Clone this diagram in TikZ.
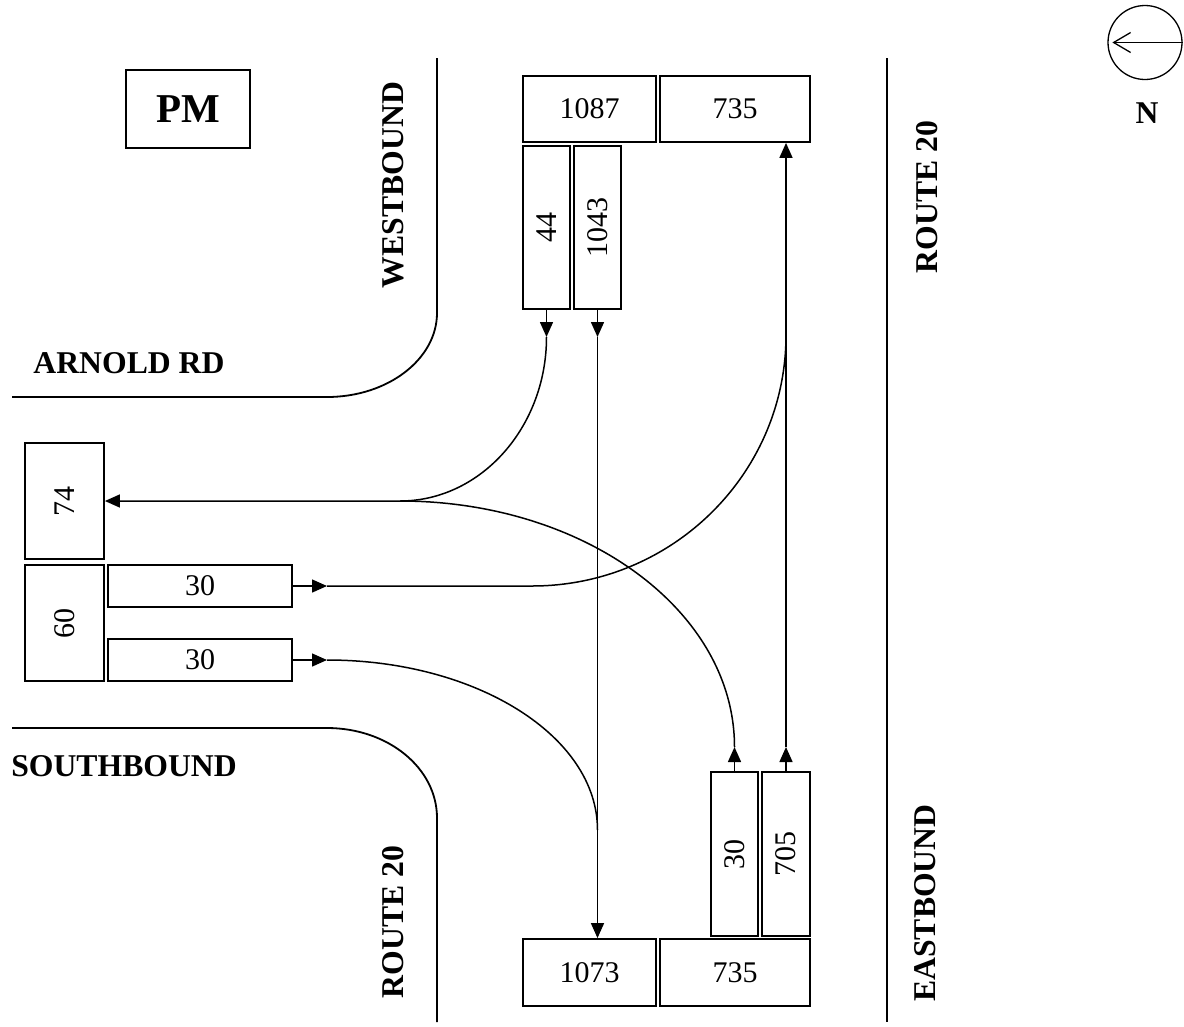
\documentclass[tikz,border=0pt]{standalone}
\usepackage{fontspec}
\usepackage{graphicx}
\setmainfont{Liberation Serif}
\usetikzlibrary{arrows.meta}
\begin{document}
\begin{tikzpicture}[x=1pt,y=-1pt,
  box/.style={draw, line width=1.8pt, inner sep=0pt, font=\fontsize{30}{36}\selectfont},
  road/.style={line width=1.8pt},
  lbl/.style={font=\fontsize{31.7}{36}\selectfont\bfseries, inner sep=0pt},
  flow/.style={line width=1.5pt},
  arr/.style={flow, -{Triangle[length=15pt,width=13pt]}},
]
\useasboundingbox (0,0) rectangle (1184,1026);

% roads
\draw[road] (437,58) -- (437,313) .. controls (437,359) and (388,397) .. (327,397) -- (12,397);
\draw[road] (12,728) -- (327,728) .. controls (388,728) and (437,768) .. (437,818) -- (437,1022);
\draw[road] (887,58) -- (887,1022);

% labels
\node[box, font=\fontsize{41}{48}\selectfont\bfseries, minimum width=124pt, minimum height=78pt] (pm) at (188,109) {PM};
\node[lbl, rotate=90] (wb) at (393,185) {WESTBOUND};
\node[lbl] (arn) at (129,363) {ARNOLD RD};
\node[lbl] (sb) at (124,766) {SOUTHBOUND};
\node[lbl, rotate=90] (r20a) at (393,922) {ROUTE 20};
\node[lbl, rotate=90] (r20b) at (927,197) {ROUTE 20};
\node[lbl, rotate=90] (eb) at (925,903) {EASTBOUND};
\node[lbl] (n) at (1147,113) {N};

% compass
\node[circle, draw, line width=1.3pt, minimum size=74pt, inner sep=0pt] (compass) at (1145,42.5) {};
\draw[line width=1.3pt, shorten >=5pt, -{Straight Barb[length=17pt,width=20pt]}] (compass.east) -- (compass.west);

% count boxes
\node[box, minimum width=133pt, minimum height=66pt] (b1087) at (589.5,109) {1087};
\node[box, minimum width=150pt, minimum height=66pt] (b735t) at (735,109) {735};
\node[box, minimum width=47pt, minimum height=163pt] (b44) at (546.5,227.5) {\rotatebox{90}{44}};
\node[box, minimum width=47pt, minimum height=163pt] (b1043) at (597.5,227.5) {\rotatebox{90}{1043}};
\node[box, minimum width=79pt, minimum height=116pt] (b74) at (64.5,501) {\rotatebox{90}{74}};
\node[box, minimum width=79pt, minimum height=116pt] (b60) at (64.5,623) {\rotatebox{90}{60}};
\node[box, minimum width=184pt, minimum height=42pt] (b30a) at (200,586) {30};
\node[box, minimum width=184pt, minimum height=42pt] (b30b) at (200,660) {30};
\node[box, minimum width=47pt, minimum height=164pt] (b30c) at (734.5,854) {\rotatebox{90}{30}};
\node[box, minimum width=48pt, minimum height=164pt] (b705) at (786,854) {\rotatebox{90}{705}};
\node[box, minimum width=133pt, minimum height=67pt] (b1073) at (589.5,972.5) {1073};
\node[box, minimum width=150pt, minimum height=67pt] (b735b) at (735,972.5) {735};

% flow coordinates
\coordinate (a44) at (546.5,337);
\coordinate (a1043) at (597.5,337);
\coordinate (j74) at (400,501);
\coordinate (a30a) at (327,586);
\coordinate (m30a) at (532,586);
\coordinate (g30a) at (786,335);
\coordinate (a30b) at (327,660);
\coordinate (g30b) at (597.5,830);
\coordinate (a30c) at (734.5,747);
\coordinate (a705) at (786,747);

% flows
\draw[arr] (b44.south) -- (a44);
\draw[arr] (a44) .. controls (546.5,427) and (481,501) .. (j74) -- (b74.east);
\draw[arr] (b30c.north) -- (a30c);
\draw[flow] (a30c) .. controls (734.5,611) and (585,501) .. (j74);
\draw[arr] (b1043.south) -- (a1043);
\draw[arr] (a1043) -- (a1043 |- b1073.north);
\draw[arr] (b705.north) -- (a705);
\draw[arr] (a705) -- (a705 |- b735t.south);
\draw[arr] (b30a.east) -- (a30a);
\draw[flow] (a30a) -- (m30a) .. controls (672,586) and (786,474) .. (g30a);
\draw[arr] (b30b.east) -- (a30b);
\draw[flow] (a30b) .. controls (476,660) and (597.5,736) .. (g30b);
\end{tikzpicture}
\end{document}
